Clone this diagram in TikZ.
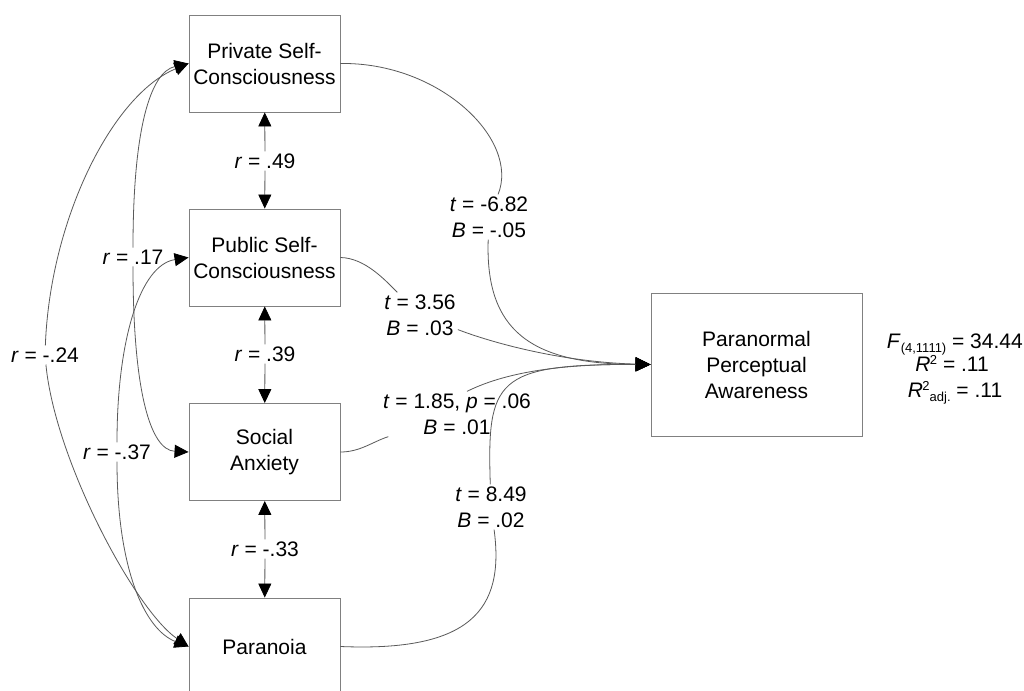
\documentclass[tikz,border=0pt]{standalone}
\usepackage{fontspec}
\setmainfont{Liberation Sans}
\usetikzlibrary{arrows.meta}
\newcommand{\lowsub}[1]{\raisebox{-4.5bp}{\fontsize{13bp}{13bp}\selectfont #1}}
\newcommand{\highsup}[1]{\raisebox{7bp}{\fontsize{13bp}{13bp}\selectfont #1}}
\begin{document}
\begin{tikzpicture}[x=1bp,y=-1bp,
  every node/.style={font=\fontsize{21bp}{26bp}\selectfont},
  box/.style={draw=black!50, line width=0.9bp, minimum width=151bp, minimum height=97bp, align=center, inner sep=0pt},
  lab/.style={fill=white, inner sep=2bp, align=center},
  conn/.style={draw=black!65, line width=0.8bp},
  tip/.style={-{Triangle[length=14bp,width=13bp,black]}},
  bigtip/.style={-{Triangle[length=15bp,width=14bp,black]}}
]
\useasboundingbox (0,0) rectangle (1024,691);
\fill[white] (0,0) rectangle (1024,691);

% boxes
\node[box] (pr) at (264.5,63.5) {Private Self-\\Consciousness};
\node[box] (pu) at (264.5,257.5) {Public Self-\\Consciousness};
\node[box] (sa) at (264.5,452) {Social\\Anxiety};
\node[box] (pn) at (264.5,646.5) {Paranoia};
\node[box, minimum width=211bp, minimum height=143bp] (pa) at (756.5,364.5) {Paranormal\\Perceptual\\Awareness};

% correlation labels
\node[lab] (l49) at (265,161) {\textit{r} = .49};
\node[lab] (l39) at (265,354) {\textit{r} = .39};
\node[lab] (l33) at (265,549) {\textit{r} = -.33};
\node[lab] (l17) at (133,257) {\textit{r} = .17};
\node[lab] (l24) at (45,355) {\textit{r} = -.24};
\node[lab] (l37) at (117,452) {\textit{r} = -.37};

% vertical correlations
\draw[conn,tip] (l49) -- (pr);
\draw[conn,tip] (l49) -- (pu);
\draw[conn,tip] (l39) -- (pu);
\draw[conn,tip] (l39) -- (sa);
\draw[conn,tip] (l33) -- (sa);
\draw[conn,tip] (l33) -- (pn);

% left correlations
\draw[conn,tip] (l17) .. controls (133,130) and (150,72) .. (pr.west);
\draw[conn,tip] (l17) .. controls (133,390) and (150,450) .. (sa.west);
\draw[conn,tip] (l24) .. controls (50,220) and (112,95) .. (pr.west);
\draw[conn,tip] (l24) .. controls (55,460) and (135,610) .. (pn.west);
\draw[conn,tip] (l37) .. controls (117,340) and (140,265) .. (pu.west);
\draw[conn,tip] (l37) .. controls (117,570) and (145,630) .. (pn.west);

% regression labels
\node[lab] (lp1) at (489,217) {\textit{t} = -6.82\\\textit{B} = -.05};
\node[lab] (lp2) at (420,315) {\textit{t} = 3.56\\\textit{B} = .03};
\node[lab] (lp3) at (457,414) {\textit{t} = 1.85, \textit{p} = .06\\\textit{B} = .01};
\node[lab] (lp4) at (491,507) {\textit{t} = 8.49\\\textit{B} = .02};

% regression paths
\draw[conn] (pr.east) .. controls (440,62) and (520,140) .. (lp1);
\draw[conn,bigtip] (lp1) .. controls (485,330) and (530,364) .. (pa.west);
\draw[conn] (pu.east) .. controls (365,258) and (385,280) .. (lp2);
\draw[conn,bigtip] (lp2) .. controls (490,342) and (560,362) .. (pa.west);
\draw[conn] (sa.east) .. controls (360,452) and (372,442) .. (lp3);
\draw[conn,bigtip] ([xshift=10bp]lp3.north) .. controls (510,370) and (570,364) .. (pa.west);
\draw[conn] (pn.east) .. controls (470,652) and (505,610) .. (lp4);
\draw[conn,bigtip] (lp4) .. controls (487,380) and (495,364) .. (pa.west);

% model statistics
\node[anchor=base east, inner sep=0pt] (ft) at (1023,348) {\textit{F}\lowsub{(4,1111)} = 34.44};
\node[anchor=base, inner sep=0pt] (r2) at (952,371) {\textit{R}\kern-0.5bp\highsup{2} = .11};
\node[anchor=base, inner sep=0pt] (r2a) at (955,397) {\textit{R}\kern-0.5bp\highsup{2}\lowsub{adj.} = .11};
\end{tikzpicture}
\end{document}
